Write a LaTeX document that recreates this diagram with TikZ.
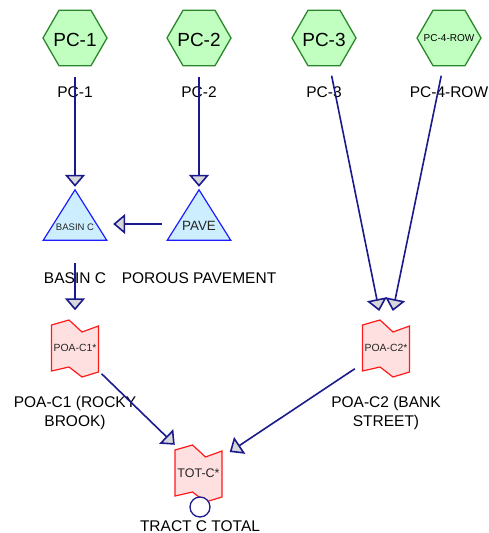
\documentclass[tikz,border=0pt]{standalone}
\usepackage{fontspec}
\setmainfont{Liberation Sans}
\usetikzlibrary{arrows.meta,shapes.geometric}

\definecolor{hexfill}{HTML}{C0FFC0}
\definecolor{hexline}{HTML}{2A882A}
\definecolor{trifill}{HTML}{CCEEFF}
\definecolor{triline}{HTML}{1E1EFF}
\definecolor{pondfill}{HTML}{FFE0E0}
\definecolor{pondline}{HTML}{FF1A1A}
\definecolor{flowline}{HTML}{1A1A8C}
\definecolor{tipfill}{HTML}{D8D8D8}

\tikzset{
  hexnode/.style={regular polygon, regular polygon sides=6, minimum size=64pt,
    inner sep=0pt, draw=hexline, fill=hexfill, line width=1.3pt},
  hextext/.style={inner sep=0pt, font=\fontsize{19}{22}\selectfont},
  tribox/.style={rectangle, minimum width=63pt, minimum height=50pt, inner sep=0pt},
  tridraw/.style={draw=triline, fill=trifill, line width=1.2pt, line join=miter},
  pondbox/.style={rectangle, minimum width=47pt, minimum height=56pt, inner sep=0pt},
  ponddraw/.style={draw=pondline, fill=pondfill, line width=1.2pt, line join=miter},
  smalltext/.style={inner sep=0pt, text=black!85},
  caption/.style={inner sep=0pt, align=center, font=\fontsize{15.5}{19}\selectfont},
  flow/.style={draw=flowline, line width=1.6pt,
    -{Triangle[length=12pt,width=20pt,fill=tipfill]}},
}

\begin{document}
\begin{tikzpicture}[x=1pt,y=-1pt]
\useasboundingbox (0,0) rectangle (488,533);

% ---- subcatchments (hexagons) ----
\node[hexnode] (pc1) at (75,38) {};
\node[hexnode] (pc2) at (199,38) {};
\node[hexnode] (pc3) at (324,38) {};
\node[hexnode] (pc4) at (449,38) {};
\node[hextext] (pc1-t) at ([yshift=-1.5pt]pc1.center) {PC-1};
\node[hextext] (pc2-t) at ([yshift=-1.5pt]pc2.center) {PC-2};
\node[hextext] (pc3-t) at ([yshift=-1.5pt]pc3.center) {PC-3};
\node[hextext, font=\fontsize{10}{12}\selectfont] (pc4-t) at (pc4.center) {PC-4-ROW};

\node[caption, anchor=base] (pc1-l) at (75,97) {PC-1};
\node[caption, anchor=base] (pc2-l) at (199,97) {PC-2};
\node[caption, anchor=base] (pc3-l) at (324,97) {PC-3};
\node[caption, anchor=base] (pc4-l) at (449,97) {PC-4-ROW};

% ---- ponds (triangles) ----
\node[tribox] (basin) at (75,215) {};
\node[tribox] (pave) at (199,215) {};
\draw[tridraw] (basin.south west) -- (basin.north) -- (basin.south east) -- cycle;
\draw[tridraw] (pave.south west) -- (pave.north) -- (pave.south east) -- cycle;
\node[smalltext, font=\fontsize{9.5}{11}\selectfont] (basin-t) at ([yshift=-12pt]basin.center) {BASIN C};
\node[smalltext, font=\fontsize{13.4}{15}\selectfont] (pave-t) at ([yshift=-11pt]pave.center) {PAVE};

\node[caption, anchor=base] (basin-l) at (75,283) {BASIN C};
\node[caption, anchor=base] (pave-l) at (199,283) {POROUS PAVEMENT};

% ---- links (flag shapes) ----
\node[pondbox] (poa1) at (75,348) {};
\node[pondbox] (poa2) at (386,348) {};
\node[pondbox] (tot) at (198.5,473) {};
\foreach \p in {poa1,poa2,tot}{
  \draw[ponddraw, shift={(\p.center)}]
    (-23.5,-23) -- (-6,-28) -- (7,-16) -- (23.5,-22) -- (23.5,24)
    -- (7,29) -- (-6,19) -- (-23.5,23) -- cycle;
}
\node[smalltext, font=\fontsize{10.4}{12}\selectfont] (poa1-t) at (poa1.center) {POA-C1*};
\node[smalltext, font=\fontsize{10.4}{12}\selectfont] (poa2-t) at (poa2.center) {POA-C2*};
\node[smalltext, font=\fontsize{12.5}{14}\selectfont] (tot-t) at (tot.center) {TOT-C*};

\node[caption] (poa1-l) at (75,412.5) {POA-C1 (ROCKY\\BROOK)};
\node[caption] (poa2-l) at (386,412.5) {POA-C2 (BANK\\STREET)};

% outflow marker under the total
\node[circle, draw=flowline, fill=white, line width=1.3pt, minimum size=20pt, inner sep=0pt]
  (tot-out) at (200,507) {};
\node[caption, anchor=base] (tot-l) at (200,531) {TRACT C TOTAL};

% ---- flow connectors ----
\draw[flow, shorten <=11pt, shorten >=3pt] (pc1) -- (basin.north);
\draw[flow, shorten <=11pt, shorten >=3pt] (pc2) -- (pave.north);
\draw[flow, shorten <=5.5pt, shorten >=6.5pt]
  ([yshift=-9pt]pave.west) -- ([yshift=-9pt]basin.east);
\draw[flow, shorten <=23pt, shorten >=9.5pt] (basin.south) -- (poa1.north);
\draw[flow, shorten <=9.5pt, shorten >=9pt] (pc3) -- ([xshift=-5pt]poa2.north);
\draw[flow, shorten <=9.5pt, shorten >=9pt] (pc4) -- ([xshift=5pt]poa2.north);
\draw[flow, shorten <=4pt, shorten >=0pt] (poa1) -- (tot.north west);
\draw[flow, shorten <=9pt, shorten >=9pt] (poa2) -- ([yshift=16pt]tot.east);
\end{tikzpicture}
\end{document}
